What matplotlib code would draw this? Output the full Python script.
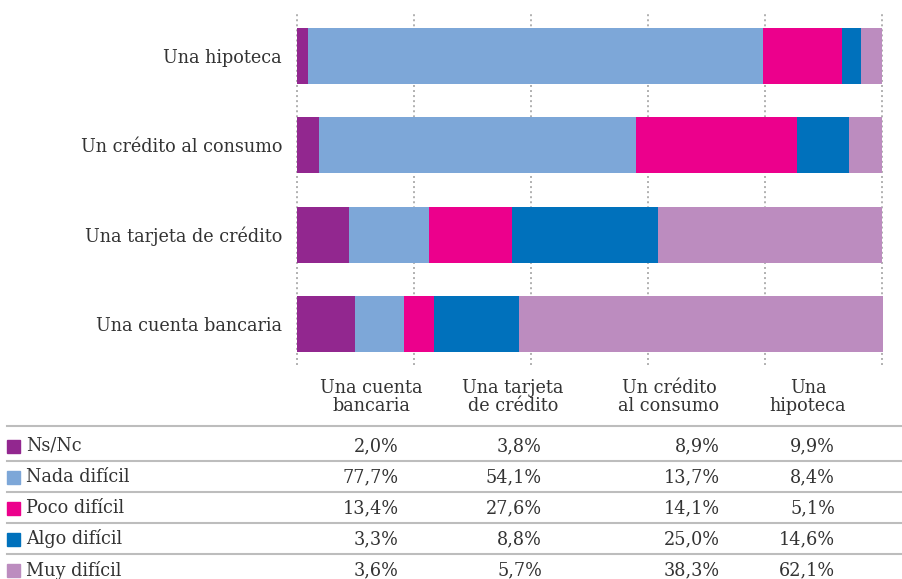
"""Stacked 100% bars with a data table underneath (difficulty of getting products)."""

import matplotlib

matplotlib.use("Agg")

import matplotlib.pyplot as plt
from matplotlib.lines import Line2D

# table columns, left to right
products = ["Una cuenta\nbancaria", "Una tarjeta\nde crédito", "Un crédito\nal consumo", "Una\nhipoteca"]
answers = ["Ns/Nc", "Nada difícil", "Poco difícil", "Algo difícil", "Muy difícil"]
colors = ["#92278f", "#7da7d8", "#ec008c", "#0071bc", "#bc8cbf"]

# one list per answer, values per table column
ns_nc = [2.0, 3.8, 8.9, 9.9]
nada = [77.7, 54.1, 13.7, 8.4]
poco = [13.4, 27.6, 14.1, 5.1]
algo = [3.3, 8.8, 25.0, 14.6]
muy = [3.6, 5.7, 38.3, 62.1]
series = [ns_nc, nada, poco, algo, muy]

# bar labels, bottom to top (bars take the table columns in reverse order)
bar_labels = ["Una cuenta bancaria", "Una tarjeta de crédito", "Un crédito al consumo", "Una hipoteca"]
grid_ticks = [0, 20, 40, 60, 80, 100]

W, H = 903, 579
FONT = "DejaVu Serif"
FS = 12.7
TXT = "#333333"

fig = plt.figure(figsize=(W / 100, H / 100), dpi=100)


def fx(px):
    return px / W


def fy(py):
    return 1 - py / H


ax = fig.add_axes([fx(296), fy(365), fx(883) - fx(296), fy(12) - fy(365)])

n = len(bar_labels)
ypos = list(range(n))
for k, (name, vals, col) in enumerate(zip(answers, series, colors)):
    left = [sum(s[n - 1 - i] for s in series[:k]) for i in ypos]
    widths = [vals[n - 1 - i] for i in ypos]
    ax.barh(ypos, widths, left=left, height=0.627, color=col, zorder=2, linewidth=0)

for t in grid_ticks:
    ax.axvline(t, color="#b0b0b0", lw=1.4, ls=(0, (1, 1.6)), zorder=1)

ax.set_xlim(-0.1, 100.1)
ax.set_ylim(-0.46, n - 1 + 0.49)
ax.set_yticks(ypos)
ax.set_yticklabels(bar_labels, fontfamily=FONT, fontsize=FS, color=TXT)
ax.tick_params(axis="y", length=0, pad=10)
ax.set_xticks([])
for sp in ax.spines.values():
    sp.set_visible(False)

# table header
col_centers = [371, 513, 669, 808]
col_right = [399, 542, 720, 835]
for cx, head in zip(col_centers, products):
    fig.text(fx(cx), fy(397), head, ha="center", va="center", fontfamily=FONT,
             fontsize=FS, color=TXT, linespacing=0.95)

# separator lines
for ly in [426, 461, 492, 523, 554]:
    fig.add_artist(Line2D([fx(7), 1], [fy(ly), fy(ly)], color="#bdbdbd", lw=1.5))

# table rows
row_y = [446, 477, 508, 539, 570]
for ry, name, vals, col in zip(row_y, answers, series, colors):
    fig.patches.append(plt.Rectangle((fx(7), fy(ry + 7)), fx(13), 13 / H, color=col,
                                     transform=fig.transFigure, figure=fig))
    fig.text(fx(26), fy(ry), name, ha="left", va="center", fontfamily=FONT,
             fontsize=FS, color=TXT)
    for rx, v in zip(col_right, vals):
        fig.text(fx(rx), fy(ry), f"{v:.1f}%".replace(".", ","), ha="right", va="center",
                 fontfamily=FONT, fontsize=FS, color=TXT)

fig.savefig("out.png", dpi=100)
